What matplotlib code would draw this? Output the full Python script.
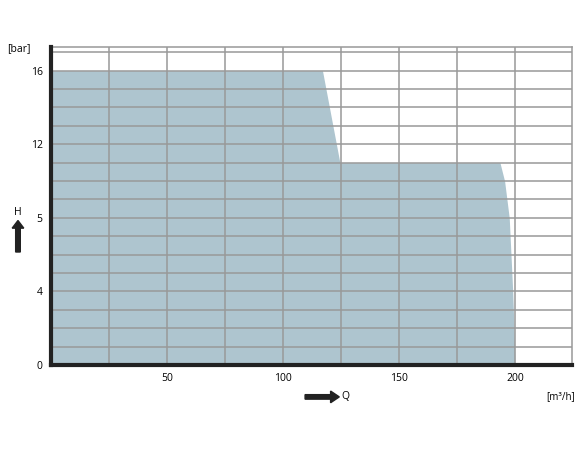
import matplotlib.pyplot as plt

# envelope of the operating range (Q in m3/h, H in grid units)
q = [0, 117, 124.5, 193.5, 195.5, 197.5, 199, 199.8, 200]
h = [16, 16, 11, 11, 10, 8, 4, 1, 0]

ytick_pos = [0, 4, 8, 12, 16]
ytick_lab = ['0', '4', '5', '12', '16']
xtick_pos = [50, 100, 150, 200]

plt.rcParams['font.family'] = ['Open Sans', 'DejaVu Sans']

fig = plt.figure(figsize=(5.8, 4.5), dpi=100)
ax = fig.add_axes([0.088, 0.189, 0.898, 0.707])

ax.fill_between(q, h, 0, color='#aec5cf', lw=0, zorder=1)

ax.set_xlim(0, 224.5)
ax.set_ylim(0, 17.3)
ax.set_xticks(range(25, 225, 25), minor=True)
ax.set_yticks(range(1, 18), minor=True)
ax.grid(True, which='both', color='#999999', lw=1.1, zorder=2)
ax.set_axisbelow(False)
ax.set_xticks(xtick_pos)
ax.set_xticklabels([str(v) for v in xtick_pos])
ax.set_yticks(ytick_pos)
ax.set_yticklabels(ytick_lab)
ax.tick_params(which='both', length=0, labelsize=7.5, pad=6)

for s in ['top', 'right']:
    ax.spines[s].set_color('#999999')
    ax.spines[s].set_linewidth(1.1)
for s in ['left', 'bottom']:
    ax.spines[s].set_color('#222222')
    ax.spines[s].set_linewidth(3)
    ax.spines[s].set_zorder(5)

fig.text(0.012, 0.893, '[bar]', fontsize=7.5, va='center')
fig.text(0.031, 0.528, 'H', fontsize=7.5, ha='center', va='center')
fig.text(0.589, 0.118, 'Q', fontsize=7.5, va='center')
fig.text(0.942, 0.118, '[m³/h]', fontsize=7, va='center')

fig.patches.append(plt.Polygon([[0.027, 0.44], [0.035, 0.44], [0.035, 0.493], [0.041, 0.493],
                                [0.031, 0.51], [0.021, 0.493], [0.027, 0.493]],
                               closed=True, color='#222222', transform=fig.transFigure))
fig.patches.append(plt.Polygon([[0.526, 0.113], [0.570, 0.113], [0.570, 0.105], [0.585, 0.118],
                                [0.570, 0.131], [0.570, 0.123], [0.526, 0.123]],
                               closed=True, color='#222222', transform=fig.transFigure))

fig.savefig('out.png', dpi=100)
